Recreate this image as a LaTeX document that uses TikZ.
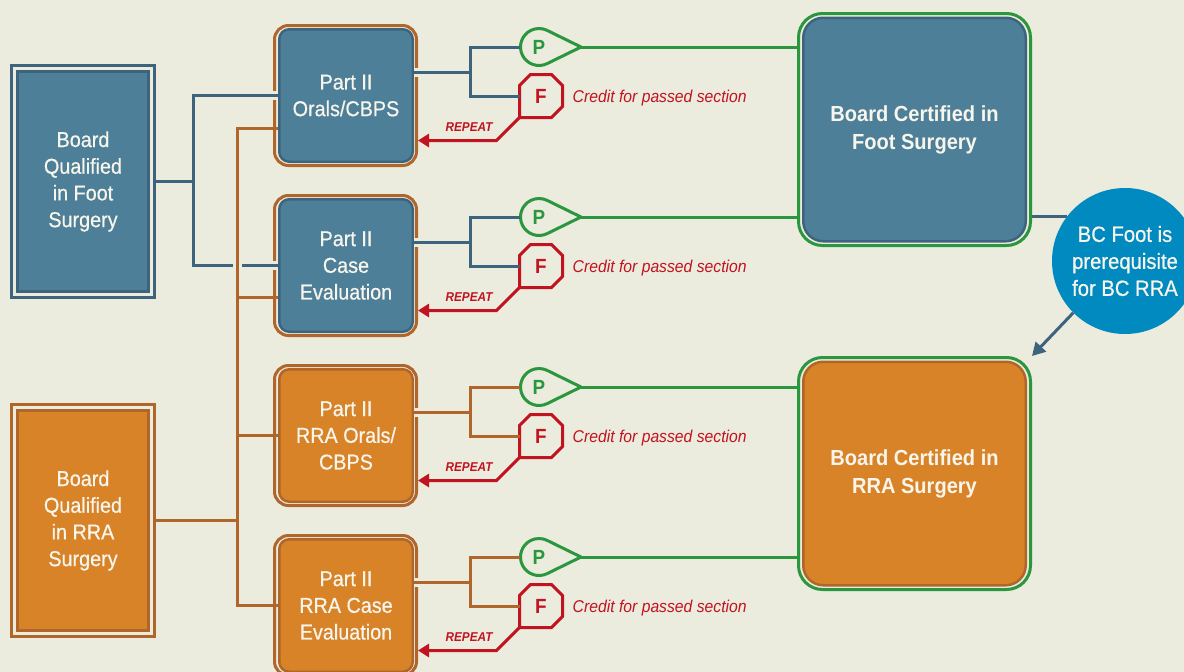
\documentclass[tikz,border=0pt]{standalone}
\usepackage{fontspec}
\setmainfont{Liberation Sans}[FakeStretch=0.92]
\newfontfamily\boxfont{Liberation Sans}[FakeStretch=0.92,FakeBold=0.6]
\usetikzlibrary{arrows.meta,calc}
\definecolor{bg}{HTML}{EBEBDE}
\definecolor{bfill}{HTML}{4E7F98}
\definecolor{bdark}{HTML}{3E647D}
\definecolor{ofill}{HTML}{D88328}
\definecolor{odark}{HTML}{B0652A}
\definecolor{pgreen}{HTML}{2A963D}
\definecolor{fred}{HTML}{C11320}
\definecolor{cblue}{HTML}{008AC0}
\definecolor{wtext}{HTML}{F7F5EC}
\tikzset{
  halo/.style={preaction={draw=bg, line width=9pt}},
  bline/.style={draw=bdark, line width=3pt},
  oline/.style={draw=odark, line width=3pt},
  gline/.style={draw=pgreen, line width=3pt},
  rline/.style={draw=fred, line width=3pt, -{Triangle[length=11pt,width=13pt]}},
  wtxt/.style={text=wtext, align=center, font=\boxfont\fontsize{21.5}{26.7}\selectfont},
  bqin/.style={wtxt, rectangle, line width=3pt, minimum width=131pt, minimum height=220pt, inner sep=0pt},
  bqout/.style={rectangle, line width=2.6pt, minimum width=142.5pt, minimum height=232pt, inner sep=0pt},
  ptin/.style={wtxt, rectangle, rounded corners=10pt, line width=2.5pt, minimum width=133.5pt, minimum height=132.5pt, inner sep=0pt},
  ptout/.style={rectangle, rounded corners=14pt, draw=odark, line width=3pt, minimum width=142pt, minimum height=140pt, inner sep=0pt},
  bcin/.style={rectangle, rounded corners=20pt, line width=2.5pt, minimum width=222.5pt, minimum height=223.5pt, inner sep=0pt, text=wtext, align=center, font=\bfseries\fontsize{21.8}{28}\selectfont},
  bcout/.style={rectangle, rounded corners=24pt, draw=pgreen, line width=3pt, minimum width=232pt, minimum height=232pt, inner sep=0pt},
  pnode/.style={circle, minimum size=37pt, inner sep=0pt, text=pgreen, font=\bfseries\fontsize{20.5}{20.5}\selectfont},
  fnode/.style={rectangle, minimum size=43pt, inner sep=0pt, outer sep=0pt, text=fred, font=\bfseries\fontsize{20.5}{20.5}\selectfont},
  pshape/.style={draw=pgreen, line width=3pt, line join=round},
  fshape/.style={draw=fred, line width=3pt},
  credit/.style={text=fred, anchor=west, inner sep=0pt, font=\itshape\fontsize{17.1}{18}\selectfont},
  reptxt/.style={text=fred, inner sep=0pt, font=\bfseries\itshape\fontsize{12.8}{14}\selectfont},
}
\begin{document}
\begin{tikzpicture}[x=1pt,y=-1pt]
\useasboundingbox (0,0) rectangle (1184,672);
\fill[bg] (0,0) rectangle (1184,672);

% Board Qualified boxes
\node[bqout, draw=bdark] (o-bqf) at (83,181.5) {};
\node[bqin, fill=bfill, draw=bdark] (bqf) at (83,181.5) {Board\\Qualified\\in Foot\\Surgery};
\node[bqout, draw=odark] (o-bqr) at (83,520.5) {};
\node[bqin, fill=ofill, draw=odark] (bqr) at (83,520.5) {Board\\Qualified\\in RRA\\Surgery};

% Part II boxes
\node[ptout] (o-pa) at (345.5,95.5) {};
\node[ptin, fill=bfill, draw=bdark] (pa) at (346,95.5) {Part II\\Orals/CBPS};
\node[ptout] (o-pb) at (345.5,265.5) {};
\node[ptin, fill=bfill, draw=bdark] (pb) at (346,265.5) {Part II\\Case\\Evaluation};
\node[ptout] (o-pc) at (345.5,435.5) {};
\node[ptin, fill=ofill, draw=odark] (pc) at (346,435.5) {Part II\\RRA Orals/\\CBPS};
\node[ptout] (o-pd) at (345.5,605.5) {};
\node[ptin, fill=ofill, draw=odark] (pd) at (346,605.5) {Part II\\RRA Case\\Evaluation};

% Board Certified boxes
\node[bcout] (bcfo) at (914.5,129.5) {};
\node[bcin, fill=bfill, draw=bdark] (bcf) at (914.5,129.5) {Board Certified in\\Foot Surgery};
\node[bcout] (bcro) at (914.5,473.5) {};
\node[bcin, fill=ofill, draw=odark] (bcr) at (914.5,473.5) {Board Certified in\\RRA Surgery};

% prerequisite circle
\node[circle, fill=cblue, minimum size=146pt, inner sep=0pt, text=wtext, align=center, font=\boxfont\fontsize{22}{27}\selectfont] (circ) at (1125,261) {BC Foot is\\prerequisite\\for BC RRA};

% left blue connectors
\coordinate (bj) at (193,181.5);
\draw[bline, halo] (pa.west) -| (bj) |- (pb.west);
\draw[bline] (o-bqf.east) -- (bj);

% left orange connectors
\coordinate (ota) at (237,128);
\coordinate (otb) at (237,297.5);
\coordinate (oj) at (237,520.5);
\coordinate (otd) at (237,605.5);
\draw[oline] (ota -| pa.west) -- (ota) -- (otd) -- (pd.west);
\draw[oline, halo] ($(ota |- pb.west)+(0,-8)$) -- ($(ota |- pb.west)+(0,8)$);
\draw[oline] (otb) -- (otb -| pb.west);
\draw[oline] (otd |- pc.west) -- (pc.west);
\draw[oline] (o-bqr.east) -- (oj);

% pass / fail rows
\foreach \k/\yc/\lc/\bx/\bc in {1/95.5/bline/pa/bcfo, 2/265.5/bline/pb/bcfo, 3/435.5/oline/pc/bcro, 4/605.5/oline/pd/bcro}{
  \node[pnode] (P\k) at (539,\yc-48.5) {P};
  \node[fnode] (F\k) at (541,\yc+0.5) {F};
  \draw[pshape] ([shift={(-63.9:18.5)}]P\k.center) -- ([shift={(42,0)}]P\k.center) -- ([shift={(63.9:18.5)}]P\k.center) arc[start angle=63.9, end angle=296.1, radius=18.5] -- cycle;
  \draw[fshape] ([shift={(-21.5,21.5)}]F\k.center) -- ++(0,-32) -- ++(11,-11) -- ++(21,0) -- ++(11,11) -- ++(0,21) -- ++(-11,11) -- cycle;
  \coordinate (R\k) at (470,\yc-23.5);
  \draw[\lc, halo] ([shift={(0,-23.5)}]\bx.east) -- (R\k);
  \draw[\lc] (P\k.west) -| (R\k) |- (F\k.west);
  \draw[gline] ([shift={(42,0)}]P\k.center) -- (P\k -| \bc.west);
  \path (F\k.south west) ++(-23,23) coordinate (Q\k);
  \draw[rline] (F\k.south west) -- (Q\k) -- (Q\k -| o-\bx.east);
  \node[reptxt] (rep\k) at ($(Q\k)+(-27.5,-13)$) {REPEAT};
  \node[credit] (cr\k) at ($(F\k.east)+(10,2)$) {Credit for passed section};
}

% prerequisite links
\draw[bline] (bcfo.east |- circ.143) -- (circ.143);
\draw[bline, -{Triangle[length=13pt,width=14pt]}] (circ.225) -- (bcro.north east);
\end{tikzpicture}
\end{document}
